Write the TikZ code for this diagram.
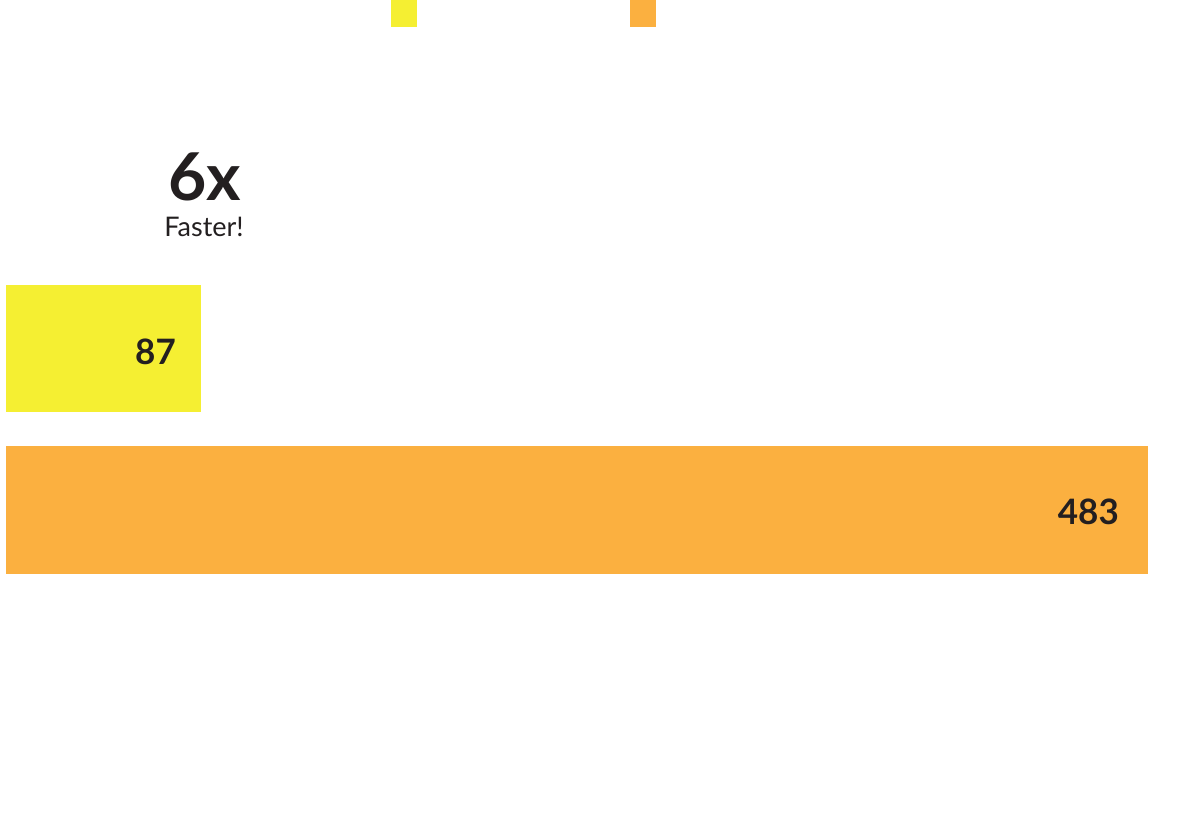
\documentclass[tikz,border=0pt]{standalone}
\usepackage{fontspec}
\setmainfont{Lato}
\definecolor{barYel}{HTML}{F5EF32}
\definecolor{barOra}{HTML}{FBB040}
\definecolor{txt}{HTML}{231F20}
\begin{document}
\begin{tikzpicture}[x=1pt,y=-1pt,
  barval/.style={anchor=east,font=\bfseries\fontsize{35}{35}\selectfont,text=txt,inner sep=0pt}]
\useasboundingbox (0,0) rectangle (1200,821);
\fill[barYel] (391,0) rectangle (417,27) coordinate (ly);
\fill[barOra] (630,0) rectangle (656,27) coordinate (lo);
\fill[barYel] (6,285) rectangle (201,412);
\fill[barOra] (6,446) rectangle (1148,574);
\node[barval] (v1) at (176,352) {87};
\node[barval] (v2) at (1119,512) {483};
\node[font=\bfseries\fontsize{66}{66}\selectfont,text=txt,inner sep=0pt] (big) at (205,177) {6x};
\node[font=\fontsize{27}{27}\selectfont,text=txt,inner sep=0pt] (fast) at (204,227) {Faster!};
\end{tikzpicture}
\end{document}
